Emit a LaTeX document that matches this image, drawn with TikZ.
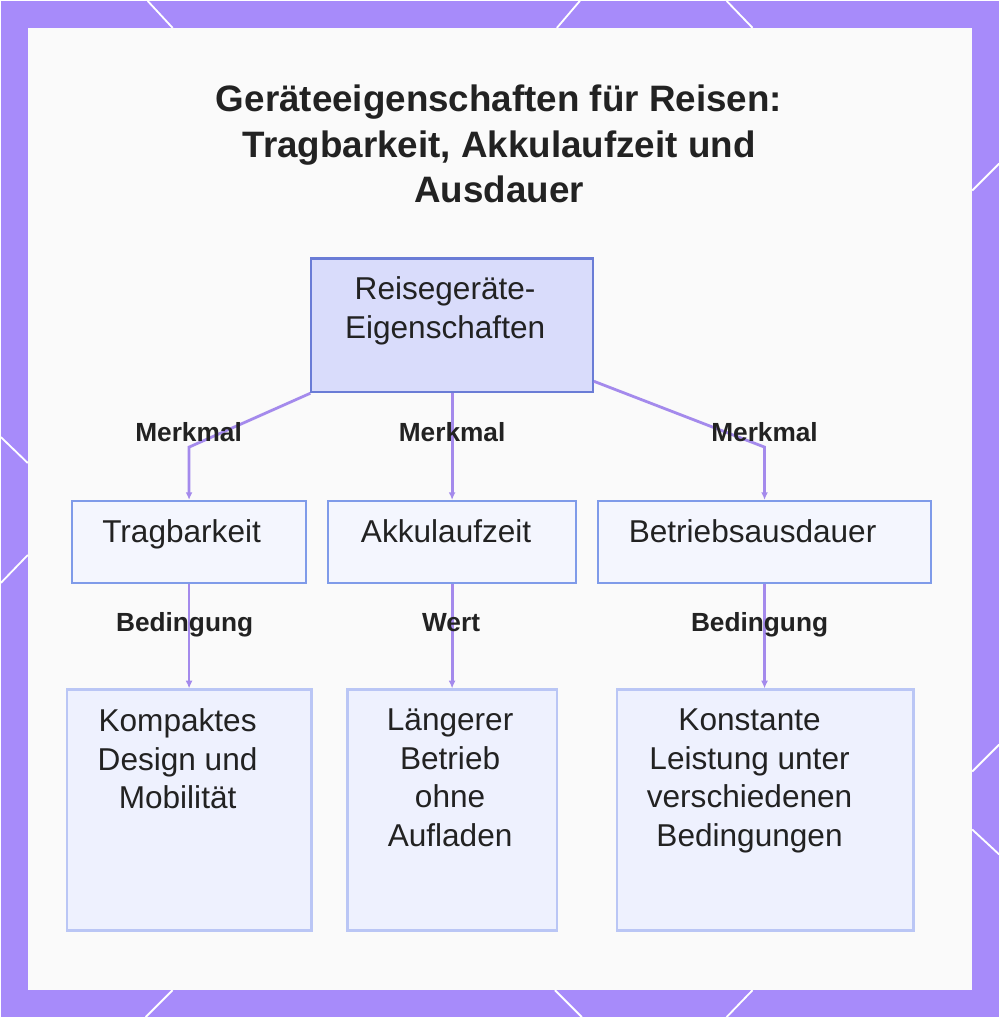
\documentclass[tikz,border=0pt]{standalone}
\usepackage{fontspec}
\setmainfont{Liberation Sans}
\usetikzlibrary{arrows.meta,fit}

\definecolor{framecol}{HTML}{A78BFA}
\definecolor{panelcol}{HTML}{FAFAFA}
\definecolor{linkcol}{HTML}{A48AEC}
\definecolor{rootfill}{HTML}{D9DCFB}
\definecolor{rootdraw}{HTML}{6A7CD6}
\definecolor{midfill}{HTML}{F4F6FE}
\definecolor{middraw}{HTML}{7F9BE9}
\definecolor{leaffill}{HTML}{EEF1FE}
\definecolor{leafdraw}{HTML}{BAC6F5}
\definecolor{ink}{HTML}{222222}

\tikzset{
  box/.style={draw, line width=1.5pt, inner sep=0pt},
  rootbox/.style={box, draw=rootdraw, fill=rootfill},
  midbox/.style={box, draw=middraw, fill=midfill},
  leafbox/.style={box, draw=leafdraw, fill=leaffill, line width=1.8pt},
  boxtext/.style={align=center, anchor=north, inner sep=0pt, text=ink,
    font=\fontsize{22.5}{27.4}\selectfont},
  edgelabel/.style={anchor=base, inner sep=0pt, text=ink,
    font=\bfseries\fontsize{18.7}{22}\selectfont},
  link/.style={draw=linkcol, line width=2pt, -{Latex[length=5.5pt,width=5pt]}},
  hexline/.style={white, line width=1.3pt},
}

\begin{document}
\begin{tikzpicture}[x=0.025cm, y=-0.025cm]
  % frame and panel
  \fill[framecol] (0,0) rectangle (1000,1018);
  \fill[panelcol] (27,27) rectangle (973,991);
  \draw[hexline] (147,0) -- (172,27) (580,0) -- (557,27) (727,0) -- (753,27);
  \draw[hexline] (172,991) -- (145,1018) (555,991) -- (582,1018) (753,991) -- (727,1018);
  \draw[hexline] (0,437) -- (27,463) (27,555) -- (0,583);
  \draw[hexline] (973,190) -- (1000,163) (973,772) -- (1000,745) (973,830) -- (1000,855);

  % title
  \node[align=center, anchor=north, inner sep=0pt, text=ink,
    font=\bfseries\fontsize{26.2}{32.5}\selectfont] (title) at (499,84)
    {Geräteeigenschaften für Reisen:\\Tragbarkeit, Akkulaufzeit und\\Ausdauer};

  % boxes
  \node[rootbox, fit={(311,258) (593,392)}] (root) {};
  \node[midbox, fit={(71,501) (306,583)}] (trag) {};
  \node[midbox, fit={(328,501) (576,583)}] (akku) {};
  \node[midbox, fit={(598,501) (932,583)}] (betr) {};
  \node[leafbox, fit={(66,690) (311,931)}] (kompakt) {};
  \node[leafbox, fit={(347,690) (557,931)}] (laenger) {};
  \node[leafbox, fit={(617,690) (914,931)}] (konstant) {};

  % box texts
  \node[boxtext] (root-t) at (445,276) {Reisegeräte-\\Eigenschaften};
  \node[boxtext] (trag-t) at (181,519) {Tragbarkeit};
  \node[boxtext] (akku-t) at (446,519) {Akkulaufzeit};
  \node[boxtext] (betr-t) at (753,519) {Betriebsausdauer};
  \node[boxtext] (kompakt-t) at (177,709) {Kompaktes\\Design und\\Mobilität};
  \node[boxtext] (laenger-t) at (450,709) {Längerer\\Betrieb\\ohne\\Aufladen};
  \node[boxtext] (konstant-t) at (750,709) {Konstante\\Leistung unter\\verschiedenen\\Bedingungen};

  % connectors
  \draw[link] (root.south west) -- (188.5,447) -- (trag.north);
  \draw[link] (root.south) -- (akku.north);
  \draw[link] ([yshift=0.3cm]root.south east) -- (765,447) -- (betr.north);
  \draw[link] (trag.south) -- (trag.south |- kompakt.north);
  \draw[link] (akku.south) -- (akku.south |- laenger.north);
  \draw[link] (betr.south) -- (betr.south |- konstant.north);

  % connector labels
  \node[edgelabel] (lab-trag) at (188,441.5) {Merkmal};
  \node[edgelabel] (lab-akku) at (452,441.5) {Merkmal};
  \node[edgelabel] (lab-betr) at (765,441.5) {Merkmal};
  \node[edgelabel] (lab-kompakt) at (184,631.5) {Bedingung};
  \node[edgelabel] (lab-laenger) at (451,631.5) {Wert};
  \node[edgelabel] (lab-konstant) at (760,631.5) {Bedingung};
\end{tikzpicture}
\end{document}
